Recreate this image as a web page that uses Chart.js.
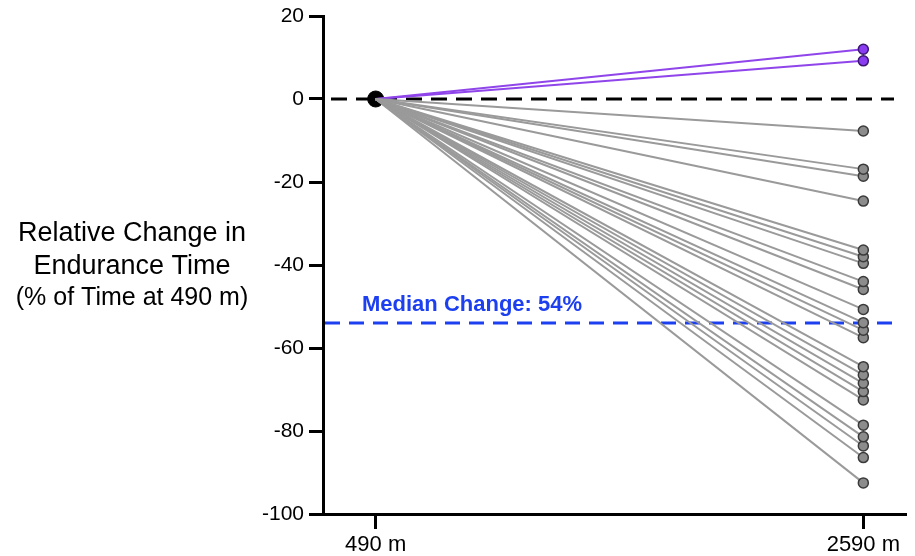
<!DOCTYPE html>
<html>
<head>
<meta charset="utf-8">
<script src="https://cdn.jsdelivr.net/npm/chart.js@4.4.1/dist/chart.umd.min.js"></script>
<style>
  html, body { margin: 0; padding: 0; background: #fff; }
  #wrap { width: 915px; height: 556px; position: relative; }
</style>
</head>
<body>
<div id="wrap"><canvas id="chart" width="915" height="556"></canvas></div>
<script>
// Altitude sites on the x axis and per-subject change at the higher site (%)
const sites = ['490 m', '2590 m'];
const improved = [12.0, 9.2];
const declined = [-7.7, -16.9, -18.6, -24.6, -36.4, -38.0, -39.6, -44.0, -45.9,
                  -50.7, -53.9, -55.7, -57.5, -64.5, -66.5, -68.5, -70.5, -72.5,
                  -78.6, -81.4, -83.6, -86.4, -92.5];
const medianChange = -54;
const yTicks = [20, 0, -20, -40, -60, -80, -100];
const titleLines = ['Relative Change in', 'Endurance Time', '(% of Time at 490 m)'];

const FONT = '"Liberation Sans", Arial, sans-serif';

function subjectDataset(v, line, fill, border) {
  return {
    data: [{ x: 0, y: 0 }, { x: 1, y: v }],
    borderColor: line,
    borderWidth: 2,
    pointRadius: [0, 5],
    pointBackgroundColor: fill,
    pointBorderColor: border,
    pointBorderWidth: 1.5,
    pointHoverRadius: [0, 5]
  };
}

const datasets = [];
declined.forEach(v => datasets.push(subjectDataset(v, '#9a9a9a', '#8c8c8c', '#3a3a3a')));
improved.forEach(v => datasets.push(subjectDataset(v, '#8f45ea', '#8a3cf0', '#3b1670')));
// common baseline point at the lower site
datasets.push({
  data: [{ x: 0, y: 0 }],
  pointRadius: 8,
  pointBackgroundColor: '#000',
  pointBorderColor: '#000',
  showLine: false
});

const refLines = {
  id: 'refLines',
  beforeDatasetsDraw(chart) {
    const { ctx, chartArea, scales } = chart;
    const endX = chartArea.right - 12;
    ctx.save();
    ctx.lineWidth = 3;
    // zero line
    const y0 = scales.y.getPixelForValue(0);
    ctx.strokeStyle = '#000';
    ctx.setLineDash([16, 9]);
    ctx.beginPath();
    ctx.moveTo(chartArea.left + 8, y0);
    ctx.lineTo(endX, y0);
    ctx.stroke();
    // median line
    const ym = scales.y.getPixelForValue(medianChange);
    ctx.strokeStyle = '#1c3ff0';
    ctx.setLineDash([15, 9]);
    ctx.beginPath();
    ctx.moveTo(chartArea.left + 2, ym);
    ctx.lineTo(endX, ym);
    ctx.stroke();
    ctx.setLineDash([]);
    ctx.fillStyle = '#1c3ff0';
    ctx.font = 'bold 22px ' + FONT;
    ctx.textAlign = 'left';
    ctx.textBaseline = 'alphabetic';
    ctx.fillText('Median Change: ' + Math.abs(medianChange) + '%', chartArea.left + 39, ym - 12);
    ctx.restore();
  },
  afterDraw(chart) {
    const { ctx } = chart;
    ctx.save();
    ctx.fillStyle = '#000';
    ctx.textAlign = 'center';
    ctx.textBaseline = 'alphabetic';
    ctx.font = '27px ' + FONT;
    ctx.fillText(titleLines[0], 132, 241);
    ctx.fillText(titleLines[1], 132, 274);
    ctx.font = '25px ' + FONT;
    ctx.fillText(titleLines[2], 132, 305);
    ctx.restore();
  }
};

// x pixel positions: 490 m near the y axis, 2590 m near the right edge
const xMin = -0.1080, xMax = 1.0875;

new Chart(document.getElementById('chart'), {
  type: 'line',
  data: { datasets },
  options: {
    responsive: false,
    animation: false,
    events: [],
    layout: { padding: { top: 16, right: 4, left: 0, bottom: 0 } },
    plugins: { legend: { display: false }, tooltip: { enabled: false } },
    elements: { line: { tension: 0 } },
    scales: {
      x: {
        type: 'linear',
        min: xMin,
        max: xMax,
        afterBuildTicks(s) { s.ticks = [{ value: 0 }, { value: 1 }]; },
        afterFit(s) { s.height = 42; s.paddingLeft = 0; s.paddingRight = 0; },
        ticks: {
          callback: v => sites[v],
          color: '#000',
          font: { family: FONT, size: 22 },
          padding: 3,
          maxRotation: 0,
          autoSkip: false
        },
        grid: { drawOnChartArea: false, drawTicks: true, tickLength: 15, tickColor: '#000', tickWidth: 3 },
        border: { display: true, color: '#000', width: 3 }
      },
      y: {
        min: -100,
        max: 20,
        afterBuildTicks(s) { s.ticks = yTicks.map(v => ({ value: v })); },
        afterFit(s) { s.width = 323; s.paddingTop = 0; s.paddingBottom = 0; },
        ticks: {
          color: '#000',
          font: { family: FONT, size: 21 },
          padding: 5
        },
        grid: { drawOnChartArea: false, drawTicks: true, tickLength: 14, tickColor: '#000', tickWidth: 3 },
        border: { display: true, color: '#000', width: 3 }
      }
    }
  },
  plugins: [refLines]
});
</script>
</body>
</html>
